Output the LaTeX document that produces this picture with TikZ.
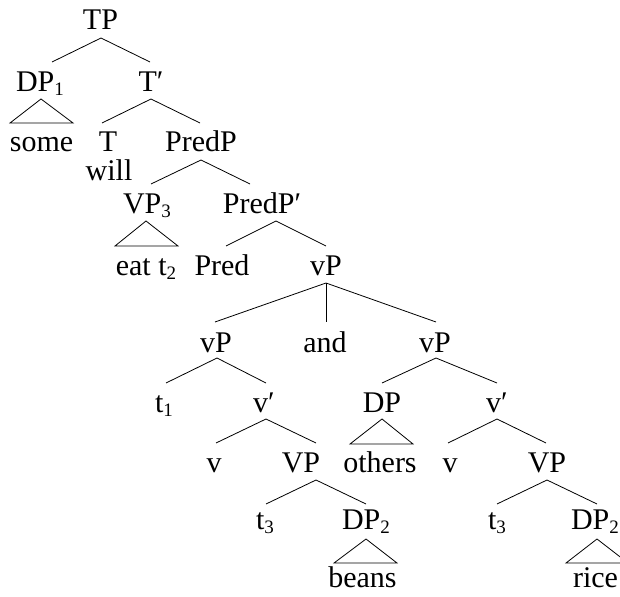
\documentclass[tikz,border=0pt]{standalone}
\usepackage{fontspec}
\setmainfont{Liberation Serif}
\newcommand\lab{\fontsize{30}{36}\selectfont}
\newcommand\subs[1]{\raisebox{-4pt}{\fontsize{19}{19}\selectfont #1}}
\tikzset{
  lbl/.style={anchor=base, inner sep=0pt, font=\lab},
  branch/.style={line width=0.8pt, line join=miter},
}
\begin{document}
\begin{tikzpicture}[x=1pt, y=-1pt]
\useasboundingbox (0,0) rectangle (620,596);
\clip (0,0) rectangle (620,596);

% labels (placed on their baselines)
\node[lbl] (TP)       at (100.5,30)  {TP};
\node[lbl] (DPa)      at (40,92)     {DP\subs{1}};
\node[lbl] (Tbar)     at (151,92)    {T′};
\node[lbl] (some)     at (41.5,152)  {some};
\node[lbl] (T)        at (108,152)   {T};
\node[lbl] (will)     at (109,180)   {will};
\node[lbl] (PredP)    at (201,152)   {PredP};
\node[lbl] (VPc)      at (147,213)   {VP\subs{3}};
\node[lbl] (PredPbar) at (262,213)   {PredP′};
\node[lbl] (eat)      at (146,275)   {eat t\subs{2}};
\node[lbl] (Pred)     at (222,275)   {Pred};
\node[lbl] (vPtop)    at (326,275)   {vP};
\node[lbl] (vPl)      at (216,352)   {vP};
\node[lbl] (and)      at (325,352)   {and};
\node[lbl] (vPr)      at (435,352)   {vP};
\node[lbl] (ta)       at (164,412)   {t\subs{1}};
\node[lbl] (vbarl)    at (264,412)   {v′};
\node[lbl] (DPo)      at (382,412)   {DP};
\node[lbl] (vbarr)    at (497,412)   {v′};
\node[lbl] (vl)       at (214,472)   {v};
\node[lbl] (VPl)      at (301,472)   {VP};
\node[lbl] (others)   at (380,472)   {others};
\node[lbl] (vr)       at (450,472)   {v};
\node[lbl] (VPr)      at (547,472)   {VP};
\node[lbl] (tcl)      at (265,529)   {t\subs{3}};
\node[lbl] (DPbl)     at (366,529)   {DP\subs{2}};
\node[lbl] (tcr)      at (497,529)   {t\subs{3}};
\node[lbl] (DPbr)     at (595,529)   {DP\subs{2}};
\node[lbl] (beans)    at (362.5,587) {beans};
\node[lbl] (rice)     at (595.5,587) {rice};

% branch points: top of each fork and the ends of its arms
\coordinate (TP-b)    at (101,38);
\coordinate (DPa-t)   at (52,62);    \coordinate (Tbar-t)  at (150,62);
\coordinate (Tbar-b)  at (151,99);
\coordinate (T-t)     at (102,123);  \coordinate (PredP-t) at (200,123);
\coordinate (PredP-b) at (201,160);
\coordinate (VPc-t)   at (151,184);  \coordinate (PredPbar-t) at (250,184);
\coordinate (PredPbar-b) at (276,221);
\coordinate (Pred-t)  at (226,246);  \coordinate (vPtop-t) at (326,246);
\coordinate (vPtop-b) at (326,283);
\coordinate (vPl-t)   at (215,322);  \coordinate (and-t)   at (326,322);
\coordinate (vPr-t)   at (436,322);
\coordinate (vPl-b)   at (217,358);
\coordinate (ta-t)    at (166,383);  \coordinate (vbarl-t) at (266,383);
\coordinate (vPr-b)   at (436,358);
\coordinate (DPo-t)   at (382,383);  \coordinate (vbarr-t) at (497,383);
\coordinate (vbarl-b) at (266,419);
\coordinate (vl-t)    at (216,443);  \coordinate (VPl-t)   at (316,443);
\coordinate (vbarr-b) at (497,419);
\coordinate (vr-t)    at (448,443);  \coordinate (VPr-t)   at (546,443);
\coordinate (VPl-b)   at (316,480);
\coordinate (tcl-t)   at (266,504);  \coordinate (DPbl-t)  at (366,504);
\coordinate (VPr-b)   at (547,480);
\coordinate (tcr-t)   at (497,504);  \coordinate (DPbr-t)  at (597,504);

% branches
\draw[branch] (DPa-t) -- (TP-b) -- (Tbar-t);
\draw[branch] (T-t) -- (Tbar-b) -- (PredP-t);
\draw[branch] (VPc-t) -- (PredP-b) -- (PredPbar-t);
\draw[branch] (Pred-t) -- (PredPbar-b) -- (vPtop-t);
\draw[branch] (vPl-t) -- (vPtop-b) -- (vPr-t);
\draw[branch] (vPtop-b) -- (and-t);
\draw[branch] (ta-t) -- (vPl-b) -- (vbarl-t);
\draw[branch] (DPo-t) -- (vPr-b) -- (vbarr-t);
\draw[branch] (vl-t) -- (vbarl-b) -- (VPl-t);
\draw[branch] (vr-t) -- (vbarr-b) -- (VPr-t);
\draw[branch] (tcl-t) -- (VPl-b) -- (DPbl-t);
\draw[branch] (tcr-t) -- (VPr-b) -- (DPbr-t);

% roof triangles over unanalysed phrases
\coordinate (DPa-r)  at (41,99);
\coordinate (DPa-r1) at (10,123);  \coordinate (DPa-r2) at (73,123);
\coordinate (VPc-r)  at (146,221);
\coordinate (VPc-r1) at (115,246); \coordinate (VPc-r2) at (178,246);
\coordinate (DPo-r)  at (382,419);
\coordinate (DPo-r1) at (350,444); \coordinate (DPo-r2) at (413,444);
\coordinate (DPbl-r) at (366,539);
\coordinate (DPbl-r1) at (334,563); \coordinate (DPbl-r2) at (397,563);
\coordinate (DPbr-r) at (597,539);
\coordinate (DPbr-r1) at (566,563); \coordinate (DPbr-r2) at (628,563);
\draw[branch] (DPa-r) -- (DPa-r1) -- (DPa-r2) -- cycle;
\draw[branch] (VPc-r) -- (VPc-r1) -- (VPc-r2) -- cycle;
\draw[branch] (DPo-r) -- (DPo-r1) -- (DPo-r2) -- cycle;
\draw[branch] (DPbl-r) -- (DPbl-r1) -- (DPbl-r2) -- cycle;
\draw[branch] (DPbr-r) -- (DPbr-r1) -- (DPbr-r2) -- cycle;
\end{tikzpicture}
\end{document}
